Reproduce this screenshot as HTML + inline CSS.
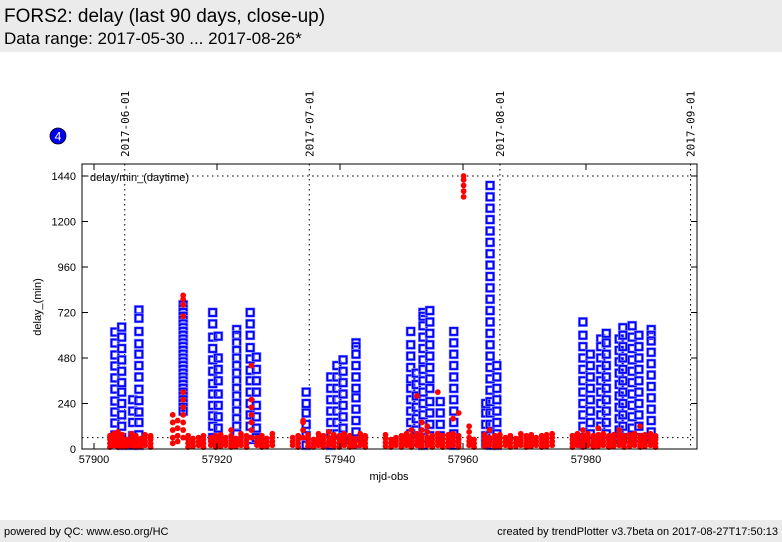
<!DOCTYPE html>
<html><head><meta charset="utf-8"><style>
body{margin:0;width:782px;height:542px;background:#fff;font-family:"Liberation Sans",sans-serif;overflow:hidden;position:relative}
.hdr{position:absolute;left:0;top:0;width:782px;height:52px;background:#ebebeb}
.ftr{position:absolute;left:0;top:520px;width:782px;height:22px;background:#ebebeb;font-size:11px}
</style></head><body>
<div class="hdr">
<div style="position:absolute;left:4px;top:6px;font-size:19px">FORS2: delay (last 90 days, close-up)</div>
<div style="position:absolute;left:4px;top:29px;font-size:17px">Data range: 2017-05-30 ... 2017-08-26*</div>
</div>
<div class="ftr">
<span style="position:absolute;left:4px;top:6px">powered by QC: www.eso.org/HC</span>
<span style="position:absolute;right:4px;top:6px">created by trendPlotter v3.7beta on 2017-08-27T17:50:13</span>
</div>
<svg id="chart" width="782" height="542" style="position:absolute;left:0;top:0" font-family="Liberation Sans, sans-serif">
<circle cx="58" cy="136" r="8" fill="#0000ee" stroke="#000" stroke-width="0.8"/>
<text x="58" y="140.5" fill="#fff" font-size="12" text-anchor="middle">4</text>
<g id="g"></g>
</svg>
<script>
const xTicks=[57900,57920,57940,57960,57980];
const yTicks=[0,240,480,720,960,1200,1440];
const dateLabels=["2017-06-01","2017-07-01","2017-08-01","2017-09-01"];
const dateMjd=[57905,57935,57966,57997];
const refLines=[1440,60];
const blueMjd=[57903.4,57904.5,57906.3,57907.3,57914.5,57919.3,57920.2,57923.2,57925.4,57926.4,57934.5,57938.5,57939.5,57940.5,57942.6,57951.5,57952.4,57953.5,57954.6,57956.3,57958.5,57963.7,57964.4,57965.5,57979.5,57980.7,57982.4,57983.3,57985.4,57986,57987.5,57988.6,57990.6];
const blueVals=[
[617,559,496,438,375,316,253,195,137,74,30],
[643,590,530,470,410,350,300,240,180,120,60,20],
[260,200,140,70,20],
[733,690,620,555,500,440,380,315,255,195,140,75,20],
[760,740,720,700,680,660,640,620,600,580,560,540,520,500,480,460,440,420,400,380,360,340,320,300,280,260,240,220,200],
[720,660,590,530,470,410,345,290,230,175,120,60],
[595,480,420,360,290,230,170,110,50],
[630,600,560,520,480,440,400,360,320,280,240,200,160,120,80,40],
[720,660,600,535,475,415,360,300,240,180,120,50],
[485,420,360,300,230,170,110,60],
[300,240,190,130,70,20],
[380,320,260,200,140,80,20],
[440,380,320,260,200,140,80],
[470,410,350,290,230,170,110,50],
[560,540,500,440,380,320,270,210,150,90,30],
[620,550,490,430,370,320,260,200,140,80],
[400,340,280,220,160,100,40],
[720,700,650,590,530,470,420,360,300,240,180,120,60,20],
[730,670,610,550,490,430,370,320,250,190,130,70],
[250,190,130,70],
[620,560,500,440,380,320,260,200,140,80,20],
[240,190,130,70,30],
[1390,1330,1270,1210,1150,1090,1030,970,910,850,790,730,670,610,550,490,430,370,310,250,190,130,70,20],
[440,380,320,260,200,140,80,20],
[670,600,540,480,420,360,300,240,180,120,60,30],
[500,440,380,320,260,200,140,80,40],
[580,540,480,420,360,300,240,180,120,60],
[610,560,500,440,380,320,260,200,140,80],
[580,520,460,400,340,280,220,160,100,50],
[640,600,540,480,420,360,300,240,180,120,60],
[650,590,530,470,410,350,290,230,170,110,60],
[600,540,480,420,360,300,240,180,120,60],
[630,600,570,510,450,390,330,270,210,150,90,50]];
const redMjd=[57902.6,57903.2,57903.9,57904.6,57905.3,57906.1,57906.8,57907.6,57908.3,57909.2,57912.8,57913.6,57914.5,57915.3,57916.1,57917,57917.8,57919,57919.8,57920.6,57921.4,57922.3,57923.1,57923.9,57924.8,57925.6,57926.5,57927.3,57928.1,57929,57932.3,57933.2,57934,57934.8,57935.7,57936.5,57937.3,57938.2,57939,57939.9,57940.7,57941.6,57942.4,57943.3,57944.1,57947.4,57948.3,57949.1,57950,57950.8,57951.6,57952.5,57953.3,57954.2,57955,57955.9,57956.7,57957.6,57958.4,57959.3,57960.1,57961,57961.8,57963.5,57964.3,57965.2,57966,57966.9,57967.7,57968.6,57969.4,57970.3,57971.1,57971.9,57972.8,57973.6,57974.5,57977.8,57978.6,57979.5,57980.3,57981.2,57982,57982.8,57983.7,57984.5,57985.4,57986.2,57987.1,57987.9,57988.8,57989.6,57990.5,57991.3];
const redVals=[
[10,30,50,70],[20,40,60,80],[10,25,45,65,90],[15,35,55,75],[10,30,50],[20,40,60,80],[10,30,50,70],[15,35,55],[20,40,60,75],[10,30,50,70],
[30,60,100,140,180],[40,70,110,150],[60,100,140,180,220,260,300,700,760,790,810],[10,30,50,70],[15,35,55],[20,40,60],[10,30,50,70],[20,40,60],[10,30,50,70],[15,35,55,75],[20,40,60],[10,30,50,70,100],[15,35,55],[20,40,60,80],[10,30,50,70],[60,100,140,180,220,260,440],[20,40,60],[10,30,50,70],[15,35,55],[20,40,60,80],
[20,40,60],[10,30,50,70],[60,100,140,150],[15,35,55,75],[10,30,50],[20,40,60,80],[10,30,50,70],[20,40,60,90],[15,35,55,75],[10,30,50,70],[20,40,60,80],[10,30,50,70],[15,35,55],[20,40,60,80],[10,30,50,70],
[15,35,55,75],[10,30,50],[20,40,60],[10,30,50,70],[20,40,60,80],[10,30,50,70,100],[20,40,60,80,280],[10,30,50,70,100,140],[20,40,60,90,120],[10,30,50,70],[20,40,60,80,300],[10,30,50,70],[15,35,55,75],[20,40,60,80,160],[10,30,50,70,190],[1330,1360,1390,1420,1440],[20,40,60,90,120],[10,30,50],[15,35,55,75],[20,40,60,100],[10,30,50,70],[15,35,55,75],[20,40,60],[10,30,50,70],[15,35,55],[20,40,60,80],[10,30,50,70],[15,35,55,75],[20,40,60],[10,30,50,70],[15,35,55,75],[20,40,60,80],
[10,30,50,70],[20,40,60,80],[10,30,50,70,100],[20,40,60,80],[10,30,50,70],[15,35,55,75,110],[20,40,60,80],[10,30,50,70],[15,35,55,75],[20,40,60,80,100],[10,30,50,70],[15,35,55,75],[20,40,60,80],[10,30,50,70,120],[15,35,55,75],[20,40,60,80],[10,30,50,70]];
const L=82,R=697,T=164,B=449;
const xs=m=>94+(m-57900)*6.15;
const ys=v=>449-v*0.18958;
const NS="http://www.w3.org/2000/svg";
const g=document.getElementById('g');
function mk(t,a){const e=document.createElementNS(NS,t);for(const k in a)e.setAttribute(k,a[k]);g.appendChild(e);return e;}
refLines.forEach(v=>{const e=mk('line',{x1:L,x2:R,y1:ys(v),y2:ys(v),stroke:'#000','stroke-dasharray':'1.5,3.5','stroke-width':1});

});
dateMjd.forEach((m,i)=>{const x=xs(m);
const l=mk('line',{x1:x,x2:x,y1:T,y2:B,stroke:'#000','stroke-dasharray':'1.5,3.5','stroke-width':1});


const t=mk('text',{x:0,y:0,'font-size':11,'font-family':'DejaVu Sans Mono, monospace',transform:`translate(${x+4},157) rotate(-90)`});
t.textContent=dateLabels[i];

});
blueMjd.forEach((m,i)=>blueVals[i].forEach(v=>{
const h=mk('rect',{x:xs(m)-3.5,y:ys(v)-3.5,width:7,height:7,fill:'none',stroke:'#9999ff','stroke-width':3});


const e=mk('rect',{x:xs(m)-3.5,y:ys(v)-3.5,width:7,height:7,fill:'none',stroke:'#0000ff','stroke-width':1.8});

}));
redMjd.forEach((m,i)=>redVals[i].forEach(v=>{const e=mk('circle',{cx:xs(m),cy:ys(v),r:2.9,fill:'#ff0000'});

}));
const f=mk('rect',{x:L,y:T,width:R-L,height:B-T,fill:'none',stroke:'#000','stroke-width':1});


xTicks.forEach(m=>{const x=xs(m);
mk('line',{x1:x,x2:x,y1:B,y2:B-6,stroke:'#000'});mk('line',{x1:x,x2:x,y1:T,y2:T+6,stroke:'#000'});
const t=mk('text',{x:x,y:463,'font-size':11,'text-anchor':'middle'});t.textContent=m;

});
yTicks.forEach(v=>{const y=ys(v);
mk('line',{x1:L,x2:L+6,y1:y,y2:y,stroke:'#000'});mk('line',{x1:R,x2:R-6,y1:y,y2:y,stroke:'#000'});
const t=mk('text',{x:76,y:y+4,'font-size':11,'text-anchor':'end'});t.textContent=v;

});
const xl=mk('text',{x:389,y:480,'font-size':11,'text-anchor':'middle'});xl.textContent='mjd-obs';


const yl=mk('text',{x:0,y:0,'font-size':11,'text-anchor':'middle',transform:'translate(41,307) rotate(-90)'});yl.textContent='delay_(min)';


const lb=mk('text',{x:90,y:181,'font-size':11});lb.textContent='delay/min_(daytime)';


</script>
</body></html>
